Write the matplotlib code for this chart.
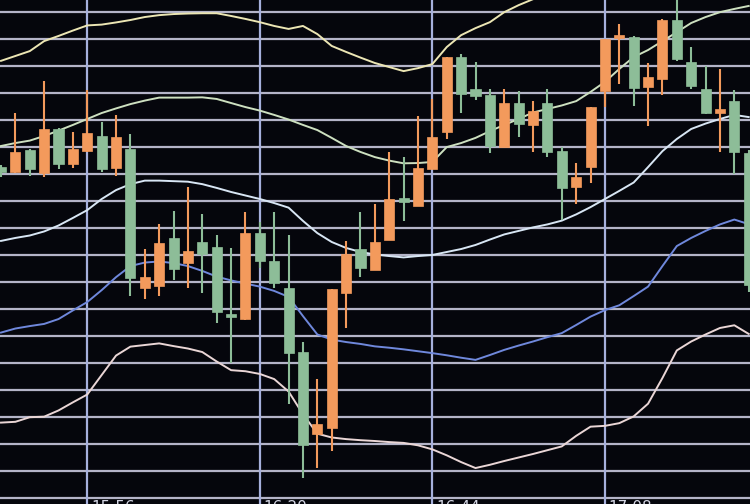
import matplotlib
matplotlib.use("Agg")
import matplotlib.pyplot as plt
import numpy as np

# --- data (2-minute candles, first candle at 15:44) ---
open_ = [122.5, 120.8, 128.8, 120.2, 136.5, 123.5, 128.6, 134.0, 122.3, 129.1,
         77.9, 78.6, 96.3, 86.9, 94.7, 93.1, 68.2, 66.2, 98.0, 87.9,
         77.9, 54.0, 23.8, 26.1, 76.0, 92.1, 84.4, 95.5, 111.0, 108.2,
         121.7, 135.4, 163.1, 151.4, 149.1, 130.0, 146.3, 138.1, 146.3, 128.6,
         115.2, 122.4, 150.7, 170.1, 170.7, 152.0, 155.1, 176.9, 161.2, 151.3,
         142.4, 146.9, 127.7]
high = [123.3, 142.6, 129.1, 154.3, 136.8, 135.4, 151.0, 139.1, 141.8, 134.7,
        92.1, 101.4, 106.3, 115.2, 105.1, 97.4, 92.5, 105.8, 102.2, 106.0,
        97.4, 57.7, 44.0, 77.3, 95.3, 106.0, 108.8, 128.2, 126.1, 141.4,
        147.7, 163.1, 164.2, 161.2, 151.3, 151.3, 150.6, 146.9, 151.3, 130.0,
        124.1, 144.8, 169.7, 175.4, 170.9, 160.9, 177.1, 186.0, 166.8, 159.9,
        158.7, 151.0, 128.8]
low = [118.8, 120.5, 119.3, 118.7, 121.9, 122.0, 128.2, 120.8, 119.2, 74.8,
       73.6, 74.8, 80.7, 77.7, 75.8, 64.7, 49.9, 65.8, 85.2, 77.7,
       34.9, 7.6, 11.1, 17.6, 62.9, 81.7, 84.4, 95.5, 102.7, 108.2,
       121.7, 132.8, 142.6, 147.3, 127.6, 130.0, 133.7, 128.2, 126.3, 102.9,
       108.8, 116.5, 144.8, 153.1, 145.1, 137.8, 149.1, 161.8, 151.3, 142.0,
       128.0, 119.9, 76.3]
close = [120.7, 128.2, 121.8, 136.5, 123.6, 129.2, 135.2, 121.8, 133.5, 81.6,
         82.0, 94.3, 84.7, 91.5, 90.4, 69.0, 66.9, 98.0, 87.9, 79.5,
         53.6, 19.7, 27.4, 77.3, 90.4, 85.1, 94.9, 110.6, 109.5, 122.0,
         133.7, 163.1, 149.5, 148.9, 130.3, 146.3, 138.3, 143.2, 128.0, 114.6,
         118.7, 144.8, 169.7, 171.0, 151.9, 155.7, 176.9, 162.4, 152.5, 142.4,
         144.1, 128.0, 78.9]

upper2 = [161.8, 163.6, 165.4, 169.1, 171.0, 173.0, 174.9, 175.2, 176.0, 176.9,
          178.0, 178.7, 179.1, 179.3, 179.4, 179.4, 178.4, 177.3, 176.1, 174.7,
          173.6, 174.7, 171.7, 167.3, 165.1, 163.0, 161.0, 159.5, 158.0, 159.1,
          160.6, 166.9, 171.3, 173.9, 176.1, 179.8, 182.4, 184.6, 187.2, 189.1,
          190.6, 191.7, 192.4, 193.5, 195.4, 197.6, 199.8, 202.0, 203.9, 205.4,
          206.5, 207.6, 208.0]
upper1 = [130.3, 131.4, 132.3, 134.0, 136.0, 138.1, 140.3, 142.5, 144.2, 145.8,
          147.1, 148.2, 148.2, 148.2, 148.3, 147.7, 146.2, 144.7, 143.4, 141.8,
          140.1, 138.1, 136.2, 133.3, 130.3, 128.1, 126.2, 124.9, 123.9, 124.0,
          124.4, 129.9, 131.4, 133.3, 135.8, 138.1, 140.3, 142.7, 144.0, 145.3,
          146.9, 150.3, 154.0, 158.8, 163.2, 165.8, 169.1, 172.4, 175.8, 178.0,
          179.8, 181.0, 182.1]
middle = [95.2, 96.3, 97.2, 98.7, 100.9, 103.7, 106.6, 110.7, 114.0, 116.2,
          117.5, 117.5, 117.3, 117.1, 116.2, 114.8, 113.3, 112.0, 110.7, 109.2,
          107.5, 102.6, 98.1, 94.8, 92.6, 91.1, 90.2, 89.6, 89.1, 89.6,
          90.0, 91.1, 92.2, 93.7, 95.7, 97.6, 98.9, 100.2, 101.3, 102.7,
          105.0, 107.7, 110.7, 113.7, 116.8, 122.5, 128.4, 132.9, 136.6, 138.6,
          140.3, 141.8, 141.0]
lower1 = [61.3, 62.8, 63.7, 64.5, 66.3, 69.5, 72.6, 77.0, 81.8, 85.9,
          87.2, 87.6, 87.0, 85.9, 84.1, 82.0, 80.6, 79.4, 78.3, 76.7,
          74.5, 67.4, 60.6, 58.7, 57.8, 57.1, 56.2, 55.7, 55.1, 54.4,
          53.7, 52.9, 52.0, 51.2, 53.0, 54.9, 56.5, 58.0, 59.6, 61.1,
          64.1, 67.2, 69.6, 71.4, 74.8, 78.3, 85.9, 93.3, 96.3, 98.9,
          101.3, 103.1, 101.4]
lower2 = [28.0, 28.3, 30.0, 30.2, 32.5, 35.5, 38.4, 45.6, 52.8, 56.1,
          56.7, 57.3, 56.3, 55.4, 54.1, 50.6, 47.4, 47.0, 46.0, 44.1,
          39.5, 31.1, 23.9, 22.5, 21.9, 21.5, 21.2, 20.8, 20.5, 19.6,
          18.1, 15.9, 13.4, 11.2, 12.4, 13.8, 15.1, 16.4, 17.8, 19.2,
          23.1, 26.5, 26.8, 27.8, 30.3, 35.0, 44.5, 54.7, 58.0, 60.6,
          63.0, 64.0, 60.8]

time_labels = ["15:56", "16:20", "16:44", "17:08"]
label_index = [6, 18, 30, 42]
price_grid = list(range(0, 190, 10))

# --- styling ---
BG = "#05060c"
UP = "#f39a5c"
DOWN = "#8dbd98"
GRID_H = "#b4b4c8"
GRID_V = "#a6b0dc"

fig = plt.figure(figsize=(7.5, 5.04), dpi=100, facecolor=BG)
ax = fig.add_axes([0, 0, 1, 1])
ax.set_facecolor(BG)

n = len(open_)
idx = np.arange(n)
ax.set_xlim(-0.07, 52.09)
ax.set_ylim(-2.1, 184.3)

for p in price_grid:
    ax.axhline(p, color=GRID_H, lw=1.6, zorder=1)
for i in label_index:
    ax.axvline(i, color=GRID_V, lw=1.6, zorder=1)

# bands
ax.plot(idx, upper2, color="#ece6b4", lw=1.4, zorder=2)
ax.plot(idx, upper1, color="#cde0c0", lw=1.4, zorder=2)
ax.plot(idx, middle, color="#d8e6f4", lw=1.4, zorder=2)
ax.plot(idx, lower1, color="#6f88dc", lw=1.4, zorder=2)
ax.plot(idx, lower2, color="#ead6d6", lw=1.4, zorder=2)

# candles
o = np.array(open_); c = np.array(close); h = np.array(high); l = np.array(low)
up = c >= o
cols = np.where(up, UP, DOWN)
ax.vlines(idx, l, h, colors=cols, lw=1.5, zorder=3)
bottoms = np.minimum(o, c)
heights = np.maximum(np.abs(c - o), 1.2)
ax.bar(idx, heights, bottom=bottoms, width=0.7, color=cols, edgecolor=cols,
       lw=0.5, zorder=4)

# time labels (mostly cut off by the bottom edge)
for lab, i in zip(time_labels, label_index):
    ax.text(i + 0.25, -0.5, lab, color="#d4d6e4", fontsize=11, va="top",
            ha="left", zorder=5)

ax.axis("off")
fig.savefig("out.png", dpi=100, facecolor=BG)
